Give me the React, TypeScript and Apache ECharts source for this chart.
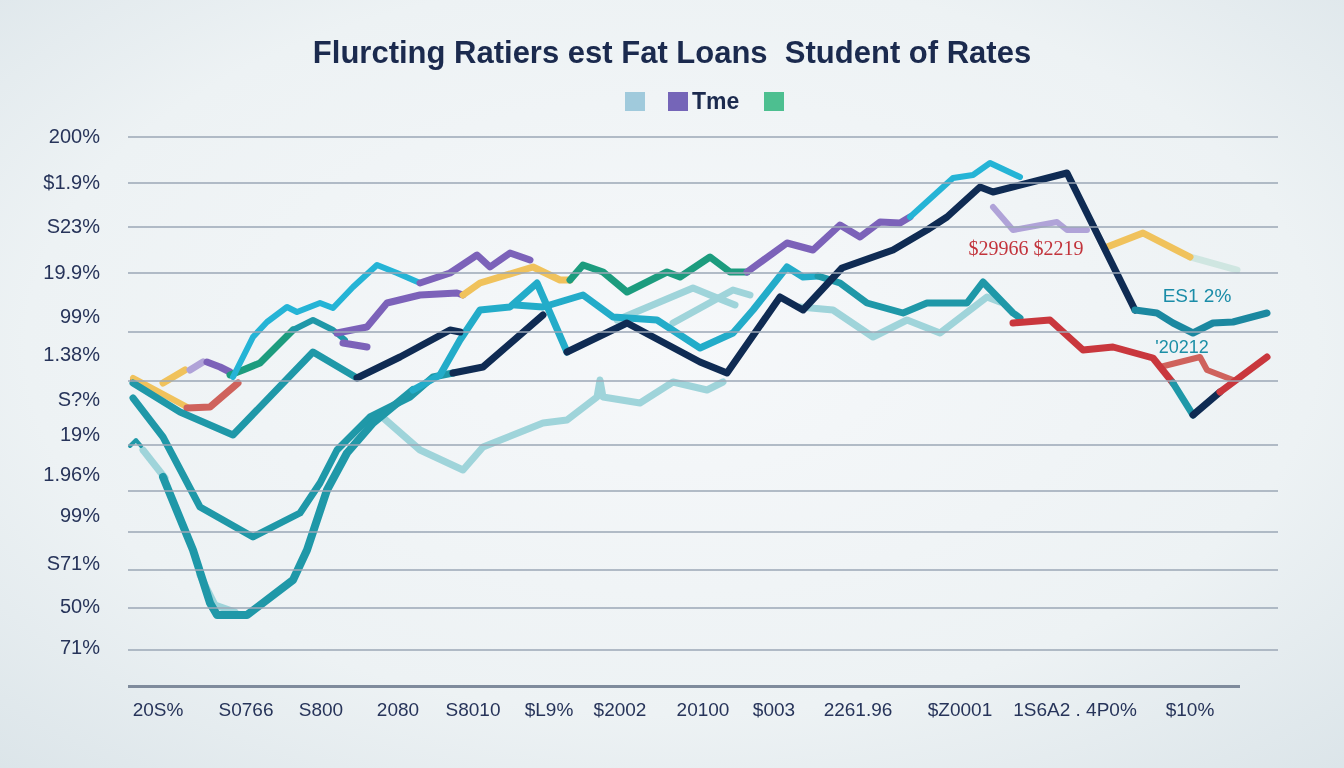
import { useEffect, useRef } from "react";
import * as echarts from "echarts";

// ---------- texts ----------
const titleText = "Flurcting Ratiers est Fat Loans  Student of Rates";
const legendLabel = "Tme";
const annotationTexts = ["$29966 $2219", "ES1 2%", "'20212"];

// ---------- axis ticks ----------
const yTickLabels = ["200%", "$1.9%", "S23%", "19.9%", "99%", "1.38%", "S?%", "19%", "1.96%", "99%", "S71%", "50%", "71%"];
const yTickValues = [55.0, 50.4, 46.0, 41.4, 37.0, 33.2, 28.7, 25.2, 21.2, 17.1, 12.3, 8.0, 3.9];
const xTickLabels = ["20S%", "S0766", "S800", "2080", "S8010", "$L9%", "$2002", "20100", "$003", "2261.96", "$Z0001", "1S6A2 . 4P0%", "$10%"];
const xTickValues = [3.0, 11.8, 19.3, 27.0, 34.5, 42.1, 49.2, 57.5, 64.6, 73.0, 83.2, 94.7, 106.2];
const gridValues = [54.9, 50.3, 45.9, 41.3, 35.4, 30.5, 24.1, 19.5, 15.4, 11.6, 7.8, 3.6];
const baselineEnd = 111.2;

// ---------- series values [time, rate] ----------
const lightLow = [[25.2, 27.1], [29.2, 23.6], [33.5, 21.6], [35.5, 23.9], [41.5, 26.3], [43.9, 26.6], [46.9, 28.9], [47.2, 30.6], [47.5, 28.9], [51.2, 28.3], [54.5, 30.4], [57.9, 29.6], [59.5, 30.4]];
const lightMidA = [[48.9, 36.6], [56.5, 39.8], [58.2, 39.1], [60.7, 38.1]];
const lightMidB = [[54.5, 36.3], [60.5, 39.6], [62.2, 39.1]];
const lightRight = [[67.2, 37.9], [70.5, 37.6], [74.5, 34.9], [77.9, 36.6], [81.2, 35.3], [85.9, 38.9], [87.2, 38.4]];
const lightStart = [[1.5, 23.6], [3.7, 20.8]];
const lightBottom = [[7.2, 11.1], [8.7, 8.1], [10.7, 7.4]];
const tealTriangle = [[0.2, 24.0], [0.8, 24.6], [1.3, 24.0]];

const tealW = [[0.5, 30.3], [5.2, 27.4], [10.5, 25.1], [18.5, 33.4], [22.9, 30.8]];
const navyA = [[22.9, 30.8], [27.2, 32.9], [32.2, 35.6], [33.2, 35.4]];
const tealUpperV = [[0.5, 28.8], [3.5, 24.9], [7.2, 17.9], [12.5, 14.9], [17.2, 17.3], [19.2, 20.3], [20.9, 23.6], [24.2, 26.9], [28.2, 28.9], [30.5, 30.9], [32.5, 31.3]];
const navyB = [[32.5, 31.3], [35.5, 31.9], [41.5, 37.1]];
const tealDeepV = [[3.5, 20.9], [6.5, 13.6], [8.2, 8.3], [8.9, 7.1], [11.9, 7.1], [16.5, 10.6], [17.9, 13.6], [19.9, 19.6], [21.9, 23.3], [24.5, 26.3], [28.5, 29.6]];
const cyanRise = [[28.5, 29.6], [31.2, 31.1], [33.2, 34.6], [35.2, 37.6], [38.2, 37.9], [40.9, 40.3], [43.9, 33.4]];
const cyanMid = [[38.7, 38.1], [41.5, 37.9], [45.5, 39.1], [48.5, 36.9], [52.9, 36.6], [57.2, 33.8], [60.5, 35.3], [62.5, 37.6], [65.9, 41.9], [67.5, 40.9], [69.0, 41.0]];
const tealMidRight = [[69.0, 41.0], [71.2, 40.3], [73.9, 38.3], [77.5, 37.3], [79.9, 38.3], [83.9, 38.3], [85.5, 40.4], [88.5, 37.3], [89.2, 36.8]];
const navyMain = [[43.9, 33.4], [49.9, 36.3], [57.2, 32.4], [59.9, 31.3], [65.2, 38.9], [67.5, 37.6], [71.4, 41.8], [76.5, 43.6], [79.9, 45.6], [81.9, 46.9], [85.2, 49.9], [86.5, 49.4], [93.9, 51.3], [100.7, 37.6]];
const tealEnd = [[100.7, 37.6], [102.9, 37.3], [104.5, 36.3], [106.5, 35.3], [108.5, 36.3], [110.5, 36.4], [113.9, 37.3]];
const redMain = [[88.5, 36.3], [92.2, 36.6], [95.5, 33.6], [98.5, 33.9], [102.5, 32.8], [104.5, 30.3]];
const tealDip = [[104.5, 30.3], [106.5, 27.1]];
const navyDip = [[106.5, 27.1], [109.2, 29.4]];
const redEnd = [[109.2, 29.4], [113.9, 32.9]];
const salmonEnd = [[103.2, 31.9], [107.2, 32.9], [107.9, 31.6], [110.5, 30.6]];
const purpleRight = [[86.5, 47.9], [88.5, 45.6], [92.9, 46.4], [93.9, 45.6], [95.9, 45.6]];
const yellowRight = [[97.9, 43.9], [101.5, 45.3], [106.2, 42.9]];
const mintRight = [[106.2, 42.9], [110.9, 41.6]];

const cyanTop = [[10.5, 30.9], [12.5, 34.9], [13.9, 36.4], [15.9, 37.9], [16.9, 37.4], [19.2, 38.3], [20.5, 37.8], [22.5, 39.9], [24.9, 42.1], [26.9, 41.3], [29.2, 40.3]];
const purpleTop = [[29.2, 40.3], [32.2, 41.3], [34.9, 43.1], [36.2, 41.9], [38.2, 43.3], [40.2, 42.6]];
const purpleMid = [[20.9, 35.3], [23.9, 35.9], [25.9, 38.3], [29.2, 39.1], [32.9, 39.3], [33.5, 39.1]];
const yellowMid = [[33.5, 39.1], [35.2, 40.3], [40.5, 41.9], [43.2, 40.6], [44.2, 40.6]];
const greenMid = [[44.2, 40.6], [45.5, 42.1], [47.5, 41.4], [49.9, 39.4], [53.9, 41.4], [55.2, 40.9], [58.2, 42.9], [60.2, 41.4], [61.9, 41.4]];
const purpleUp = [[61.9, 41.4], [65.9, 44.3], [68.5, 43.6], [71.2, 46.1], [73.2, 44.9], [75.2, 46.4], [77.2, 46.3], [78.2, 46.9]];
const cyanPeak = [[78.2, 46.9], [82.5, 50.8], [84.5, 51.1], [86.2, 52.3], [89.2, 50.9]];
const purpleChunk = [[21.5, 34.3], [23.9, 33.9]];

const redStart = [[0.5, 30.6], [1.6, 30.1]];
const yellowStart = [[0.5, 30.8], [5.9, 27.9]];
const salmonStart = [[5.9, 27.8], [8.2, 27.9], [11.0, 30.3]];
const yellowUp = [[3.5, 30.3], [5.7, 31.6]];
const lavenderBit = [[6.2, 31.6], [7.5, 32.4]];
const purpleBit = [[7.9, 32.4], [9.2, 31.9], [10.2, 31.4]];
const greenStart = [[10.2, 31.1], [11.5, 31.6], [13.2, 32.3], [16.5, 35.6]];
const tealBit = [[16.5, 35.6], [18.5, 36.6], [20.5, 35.6], [21.7, 34.6]];

// ---------- styles (colour, width) ----------
const C = {
  light: "#9fd4da",
  teal: "#1f98a8",
  tealDark: "#1b88a0",
  cyan: "#23acc9",
  cyanBright: "#25b4d6",
  navy: "#0f2b53",
  red: "#c9373d",
  salmon: "#cf625c",
  purple: "#7c62b9",
  lavender: "#b0a3d8",
  yellow: "#f0c25c",
  mint: "#cfe6e1",
  green: "#1c9c7e",
};

const layers: [any[], string, number][] = [
  [lightLow, C.light, 7],
  [lightMidA, C.light, 7],
  [lightMidB, C.light, 7],
  [lightRight, C.light, 7],
  [lightStart, C.light, 7],
  [lightBottom, C.light, 7],
  [mintRight, C.mint, 7],
  [tealTriangle, C.teal, 4],
  [redStart, C.red, 6],
  [yellowStart, C.yellow, 6],
  [salmonStart, C.salmon, 7],
  [yellowUp, C.yellow, 7],
  [lavenderBit, C.lavender, 7],
  [purpleBit, C.purple, 7],
  [greenStart, C.green, 7],
  [tealBit, C.teal, 6],
  [purpleChunk, C.purple, 7],
  [purpleMid, C.purple, 7],
  [yellowMid, C.yellow, 7],
  [greenMid, C.green, 7],
  [purpleUp, C.purple, 7],
  [cyanPeak, C.cyanBright, 6],
  [cyanTop, C.cyanBright, 6],
  [purpleTop, C.purple, 7],
  [purpleRight, C.lavender, 6],
  [yellowRight, C.yellow, 7],
  [tealW, C.teal, 7],
  [tealUpperV, C.teal, 7],
  [tealDeepV, C.teal, 8],
  [cyanMid, C.cyan, 7],
  [tealMidRight, C.teal, 7],
  [cyanRise, C.cyan, 7],
  [navyA, C.navy, 7],
  [navyB, C.navy, 7],
  [salmonEnd, C.salmon, 6],
  [redMain, C.red, 7],
  [tealDip, C.teal, 7],
  [navyMain, C.navy, 7],
  [tealEnd, C.tealDark, 7],
  [navyDip, C.navy, 7],
  [redEnd, C.red, 7],
];

const labelFont = "'Liberation Sans', Arial, sans-serif";

function lookup(values: number[], labels: string[], v: number) {
  for (let i = 0; i < values.length; i++) if (Math.abs(values[i] - v) < 1e-6) return labels[i];
  return "";
}

export default function App() {
  const ref = useRef<HTMLDivElement>(null);
  useEffect(() => {
    if (!ref.current) return;
    const chart = echarts.init(ref.current, null, { renderer: "svg" });
    const series: any[] = layers.map(([data, color, width], i) => ({
      type: "line",
      data,
      symbol: "none",
      silent: true,
      lineStyle: { color, width, cap: "round", join: "round" },
      z: 2 + i * 0.01,
    }));
    series.unshift({
      type: "line",
      data: [],
      symbol: "none",
      silent: true,
      z: 1,
      markLine: {
        silent: true,
        symbol: "none",
        label: { show: false },
        data: [
          ...gridValues.map((v) => ({ yAxis: v, lineStyle: { color: "#9ba7b6", width: 1.5, type: "solid" } })),
          [
            { coord: [0, 0], lineStyle: { color: "#7f8b9c", width: 3, type: "solid" } },
            { coord: [baselineEnd, 0] },
          ],
        ],
      },
    });
    chart.setOption({
      animation: false,
      backgroundColor: {
        type: "radial",
        x: 0.5,
        y: 0.45,
        r: 0.8,
        colorStops: [
          { offset: 0, color: "#f6f8fa" },
          { offset: 0.6, color: "#edf2f4" },
          { offset: 1, color: "#d8e2e7" },
        ],
      },
      title: {
        text: titleText,
        left: "center",
        top: 32,
        textStyle: { fontSize: 31, fontWeight: "bold", color: "#1b2a4e", fontFamily: "'Liberation Sans Narrow', 'Liberation Sans', sans-serif" },
      },
      grid: { left: 128, right: 66, top: 136, bottom: 82, containLabel: false, outerBoundsMode: "none" },
      xAxis: {
        type: "value",
        min: 0,
        max: 115,
        axisLine: { show: false },
        axisTick: { show: false },
        splitLine: { show: false },
        axisLabel: {
          customValues: xTickValues,
          formatter: (v: number) => lookup(xTickValues, xTickLabels, v),
          margin: 14,
          fontSize: 19,
          color: "#27345a",
          fontFamily: labelFont,
        },
      },
      yAxis: {
        type: "value",
        min: 0,
        max: 55,
        axisLine: { show: false },
        axisTick: { show: false },
        splitLine: { show: false },
        axisLabel: {
          customValues: yTickValues,
          formatter: (v: number) => lookup(yTickValues, yTickLabels, v),
          margin: 28,
          fontSize: 20,
          color: "#27345a",
          fontFamily: labelFont,
        },
      },
      graphic: [
        { type: "rect", shape: { x: 625, y: 92, width: 20, height: 19 }, style: { fill: "#a0cadc" } },
        { type: "rect", shape: { x: 668, y: 92, width: 20, height: 19 }, style: { fill: "#7565b8" } },
        {
          type: "text",
          x: 692,
          y: 101,
          style: { text: legendLabel, fill: "#1b2a4e", font: "bold 23px 'Liberation Sans Narrow', 'Liberation Sans', sans-serif", verticalAlign: "middle" },
        },
        { type: "rect", shape: { x: 764, y: 92, width: 20, height: 19 }, style: { fill: "#4dbf90" } },
        {
          type: "text",
          x: 1026,
          y: 248,
          style: { text: annotationTexts[0], fill: "#c2333b", font: "20px 'Liberation Serif', serif", align: "center", verticalAlign: "middle" },
        },
        {
          type: "text",
          x: 1197,
          y: 295,
          style: { text: annotationTexts[1], fill: "#1a8ca8", font: "19px 'Liberation Sans', sans-serif", align: "center", verticalAlign: "middle" },
        },
        {
          type: "text",
          x: 1182,
          y: 347,
          style: { text: annotationTexts[2], fill: "#1c8fa6", font: "18px 'Liberation Sans Narrow', 'Liberation Sans', sans-serif", align: "center", verticalAlign: "middle" },
        },
      ],
      series,
    });
    return () => chart.dispose();
  }, []);
  return <div ref={ref} style={{ position: "fixed", left: 0, top: 0, width: 1344, height: 768 }} />;
}
